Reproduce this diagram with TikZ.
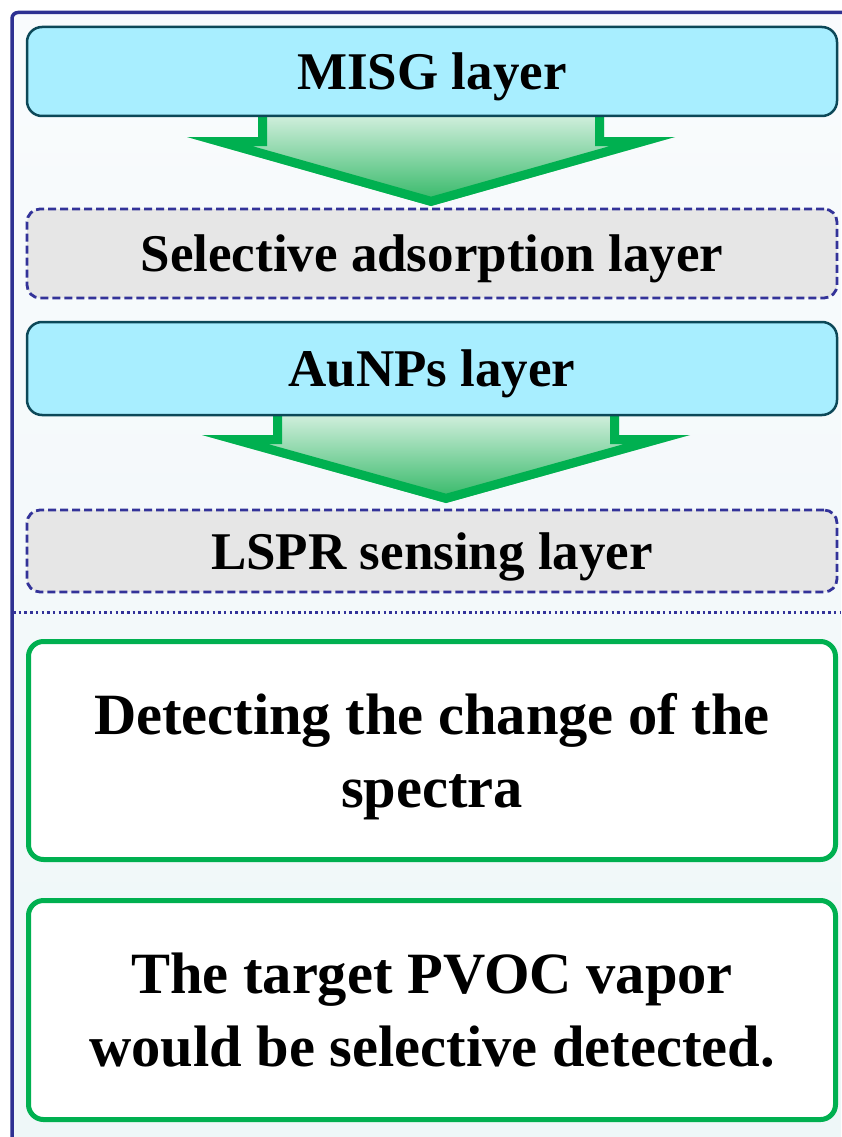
\documentclass[tikz,border=0pt]{standalone}
\usepackage{fontspec}
\setmainfont{Liberation Serif}
\definecolor{frameblue}{RGB}{46,49,146}
\definecolor{dashblue}{RGB}{51,51,153}
\definecolor{cyanfill}{RGB}{168,238,255}
\definecolor{tealdraw}{RGB}{12,72,88}
\definecolor{greyfill}{RGB}{230,230,230}
\definecolor{grn}{RGB}{0,176,80}
\definecolor{arrtop}{RGB}{236,248,241}
\definecolor{arrbot}{RGB}{45,182,98}
\definecolor{bgtop}{RGB}{249,251,253}
\definecolor{bgbot}{RGB}{238,247,248}
\newcommand\blockarrow[5]{% #1 cx, #2 ytop, #3 ywing, #4 ytip, #5 name
  \coordinate (#5) at (#1,#4);
  \begin{scope}
    \clip ({#1-173},#2) -- ({#1-173},#3) -- ({#1-244},#3) -- (#5) -- ({#1+244},#3) -- ({#1+173},#3) -- ({#1+173},#2) -- cycle;
    \shade[top color=arrtop, bottom color=arrbot] ({#1-244},#2) rectangle ({#1+244},#4);
    \draw[grn, line width=18pt, line join=miter] ({#1-173},#2) -- ({#1-173},#3) -- ({#1-244},#3) -- (#5) -- ({#1+244},#3) -- ({#1+173},#3) -- ({#1+173},#2) -- cycle;
  \end{scope}}
\begin{document}
\begin{tikzpicture}[x=1pt,y=-1pt,
  layerbox/.style={rectangle, rounded corners=15pt, draw=tealdraw, line width=2.5pt, fill=cyanfill,
    minimum width=810pt, inner sep=0pt, text depth=0pt, font=\fontsize{53}{60}\selectfont\bfseries},
  dashbox/.style={rectangle, rounded corners=13pt, draw=dashblue, line width=2.8pt,
    dash pattern=on 8pt off 4pt, fill=greyfill, minimum width=810pt, inner sep=0pt, text depth=0pt,
    font=\fontsize{53}{60}\selectfont\bfseries},
  resultbox/.style={rectangle, rounded corners=15pt, draw=grn, line width=5pt, fill=white,
    minimum width=807pt, inner sep=0pt, align=center, text depth=0pt,
    font=\fontsize{58.5}{73}\selectfont\bfseries}]
\useasboundingbox (0,0) rectangle (841,1137);
\fill[white] (0,0) rectangle (841,1137);
\shade[top color=bgtop, bottom color=bgbot] (12,12.5) rectangle (841,1137);
\draw[frameblue, line width=3.5pt, rounded corners=6pt] (12,1145) -- (12,12.5) -- (850,12.5);
\draw[dashblue, line width=3pt, dash pattern=on 2.5pt off 3.2pt] (13,612) -- (841,612);

\blockarrow{431}{100}{137}{206}{tipa}
\blockarrow{446}{400}{435}{503}{tipb}

\node[layerbox, minimum height=89pt] (misg) at (432,71.5) {MISG layer};
\node[dashbox, minimum height=89pt] (sel) at (432,253.5) {Selective adsorption layer};
\node[layerbox, minimum height=93pt] (aunp) at (432,368.5) {AuNPs layer};
\node[dashbox, minimum height=82pt] (lspr) at (432,551) {LSPR sensing layer};
\node[resultbox, minimum height=218pt] (det) at (432,750.5) {Detecting the change of the\\spectra};
\node[resultbox, minimum height=219pt] (tgt) at (432,1010) {The target PVOC vapor\\would be selective detected.};
\end{tikzpicture}
\end{document}
